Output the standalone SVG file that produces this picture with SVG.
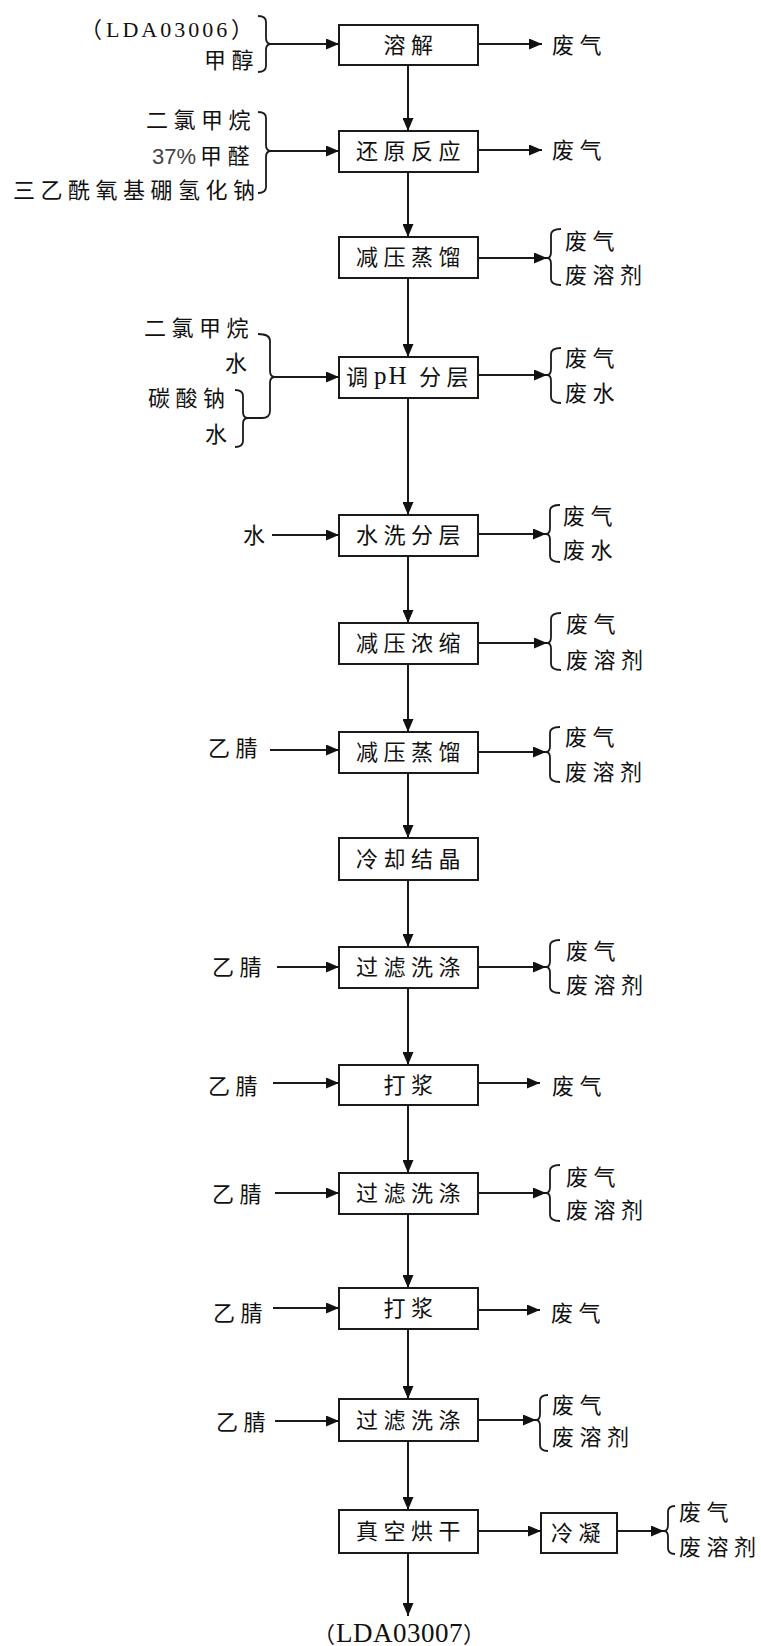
<svg xmlns="http://www.w3.org/2000/svg" width="761" height="1646" viewBox="0 0 761 1646">
<style>
.bg{fill:#fff}
.box rect{fill:#fff;stroke:#1a1a1a;stroke-width:2}
.ln{fill:none;stroke:#1a1a1a;stroke-width:2}
.br{fill:none;stroke:#1a1a1a;stroke-width:1.8}
.cn{font-family:"Noto Sans CJK SC","Noto Sans CJK JP",sans-serif;font-size:22px;letter-spacing:5.5px;fill:#111}
.mid{text-anchor:middle}
.lat{font-family:"Liberation Serif","Noto Sans CJK SC",serif;font-size:22px;letter-spacing:3px;fill:#111}
.par{font-family:"Noto Sans CJK SC",sans-serif;font-size:22px;letter-spacing:0;fill:#111}
.sans{font-family:"Liberation Sans",sans-serif;font-size:22px;letter-spacing:0;fill:#444}
</style>
<defs>
<marker id="ah" markerWidth="13" markerHeight="11" refX="13" refY="5.5" orient="auto" markerUnits="userSpaceOnUse"><path d="M0,0 L13,5.5 L0,11 z" fill="#111"/></marker>
</defs>
<rect class="bg" x="0" y="0" width="761" height="1646"/>

<g id="connectors">
<!-- vertical main flow -->
<line class="ln" x1="408" y1="65" x2="408" y2="131" marker-end="url(#ah)"/>
<line class="ln" x1="408" y1="172" x2="408" y2="237" marker-end="url(#ah)"/>
<line class="ln" x1="408" y1="278" x2="408" y2="357" marker-end="url(#ah)"/>
<line class="ln" x1="408" y1="398" x2="408" y2="515" marker-end="url(#ah)"/>
<line class="ln" x1="408" y1="556" x2="408" y2="623" marker-end="url(#ah)"/>
<line class="ln" x1="408" y1="664" x2="408" y2="732" marker-end="url(#ah)"/>
<line class="ln" x1="408" y1="773" x2="408" y2="838" marker-end="url(#ah)"/>
<line class="ln" x1="408" y1="880" x2="408" y2="947" marker-end="url(#ah)"/>
<line class="ln" x1="408" y1="988" x2="408" y2="1065" marker-end="url(#ah)"/>
<line class="ln" x1="408" y1="1105" x2="408" y2="1173" marker-end="url(#ah)"/>
<line class="ln" x1="408" y1="1214" x2="408" y2="1288" marker-end="url(#ah)"/>
<line class="ln" x1="408" y1="1329" x2="408" y2="1399" marker-end="url(#ah)"/>
<line class="ln" x1="408" y1="1441" x2="408" y2="1510" marker-end="url(#ah)"/>
<line class="ln" x1="408" y1="1553" x2="408" y2="1616" marker-end="url(#ah)"/>

<!-- input arrows -->
<line class="ln" x1="271" y1="44" x2="339" y2="44" marker-end="url(#ah)"/>
<line class="ln" x1="271" y1="151" x2="339" y2="151" marker-end="url(#ah)"/>
<line class="ln" x1="275" y1="377" x2="339" y2="377" marker-end="url(#ah)"/>
<line class="ln" x1="272" y1="535" x2="339" y2="535" marker-end="url(#ah)"/>
<line class="ln" x1="270" y1="750" x2="339" y2="750" marker-end="url(#ah)"/>
<line class="ln" x1="277" y1="967" x2="339" y2="967" marker-end="url(#ah)"/>
<line class="ln" x1="273" y1="1083" x2="339" y2="1083" marker-end="url(#ah)"/>
<line class="ln" x1="275" y1="1193" x2="339" y2="1193" marker-end="url(#ah)"/>
<line class="ln" x1="273" y1="1308" x2="339" y2="1308" marker-end="url(#ah)"/>
<line class="ln" x1="275" y1="1421" x2="339" y2="1421" marker-end="url(#ah)"/>

<!-- output arrows -->
<line class="ln" x1="478" y1="44" x2="542" y2="44" marker-end="url(#ah)"/>
<line class="ln" x1="478" y1="150" x2="542" y2="150" marker-end="url(#ah)"/>
<line class="ln" x1="478" y1="258" x2="547" y2="258" marker-end="url(#ah)"/>
<line class="ln" x1="478" y1="375" x2="547" y2="375" marker-end="url(#ah)"/>
<line class="ln" x1="478" y1="534" x2="546" y2="534" marker-end="url(#ah)"/>
<line class="ln" x1="478" y1="643" x2="547" y2="643" marker-end="url(#ah)"/>
<line class="ln" x1="478" y1="752" x2="546" y2="752" marker-end="url(#ah)"/>
<line class="ln" x1="478" y1="967" x2="546" y2="967" marker-end="url(#ah)"/>
<line class="ln" x1="478" y1="1083" x2="540" y2="1083" marker-end="url(#ah)"/>
<line class="ln" x1="478" y1="1193" x2="546" y2="1193" marker-end="url(#ah)"/>
<line class="ln" x1="478" y1="1310" x2="540" y2="1310" marker-end="url(#ah)"/>
<line class="ln" x1="478" y1="1420" x2="536" y2="1420" marker-end="url(#ah)"/>
<line class="ln" x1="478" y1="1531" x2="541" y2="1531" marker-end="url(#ah)"/>
<line class="ln" x1="617" y1="1531" x2="664" y2="1531" marker-end="url(#ah)"/>

<!-- left braces "}" -->
<path class="br" d="M258,16 Q266,16 266,22 L266,38 Q266,44 271,44 Q266,44 266,50 L266,66 Q266,72 258,72"/>
<path class="br" d="M258,112 Q266,112 266,118 L266,145 Q266,151 271,151 Q266,151 266,157 L266,187 Q266,193 258,193"/>
<path class="br" d="M258,334 Q270,334 270,341 L270,371 Q270,377 275,377 Q270,377 270,383 L270,411 Q270,418 262,418 L248,418"/>
<path class="br" d="M235,390 Q243,390 243,396 L243,412 Q243,418 248,418 Q243,418 243,424 L243,441 Q243,447 235,447"/>

<!-- right braces "{" -->
<path class="br" d="M561,229 Q551,229 551,235 L551,252 Q551,258 547,258 Q551,258 551,264 L551,279 Q551,285 561,285"/>
<path class="br" d="M561,348 Q551,348 551,354 L551,369 Q551,375 547,375 Q551,375 551,381 L551,397 Q551,403 561,403"/>
<path class="br" d="M560,505 Q550,505 550,511 L550,528 Q550,534 546,534 Q550,534 550,540 L550,556 Q550,562 560,562"/>
<path class="br" d="M561,613 Q551,613 551,619 L551,637 Q551,643 547,643 Q551,643 551,649 L551,664 Q551,670 561,670"/>
<path class="br" d="M560,727 Q550,727 550,733 L550,746 Q550,752 546,752 Q550,752 550,758 L550,776 Q550,782 560,782"/>
<path class="br" d="M560,940 Q550,940 550,946 L550,961 Q550,967 546,967 Q550,967 550,973 L550,987 Q550,993 560,993"/>
<path class="br" d="M560,1165 Q550,1165 550,1171 L550,1187 Q550,1193 546,1193 Q550,1193 550,1199 L550,1215 Q550,1221 560,1221"/>
<path class="br" d="M548,1395 Q540,1395 540,1401 L540,1414 Q540,1420 536,1420 Q540,1420 540,1426 L540,1445 Q540,1451 548,1451"/>
<path class="br" d="M675,1506 Q668,1506 668,1512 L668,1525 Q668,1531 664,1531 Q668,1531 668,1537 L668,1548 Q668,1554 675,1554"/>
</g>

<g id="n1" class="box"><rect x="339" y="25" width="139" height="40"/><text class="cn mid" x="411" y="53">溶解</text></g>
<g id="n2" class="box"><rect x="339" y="131" width="139" height="41"/><text class="cn mid" x="411" y="159">还原反应</text></g>
<g id="n3" class="box"><rect x="339" y="237" width="139" height="41"/><text class="cn mid" x="411" y="265">减压蒸馏</text></g>
<g id="n4" class="box"><rect x="339" y="357" width="139" height="41"/><text class="cn" y="385"><tspan x="346">调</tspan><tspan class="lat" x="374" y="384" style="font-size:25px;letter-spacing:2px">pH</tspan><tspan x="419" y="385">分层</tspan></text></g>
<g id="n5" class="box"><rect x="339" y="515" width="139" height="41"/><text class="cn mid" x="411" y="543">水洗分层</text></g>
<g id="n6" class="box"><rect x="339" y="623" width="139" height="41"/><text class="cn mid" x="411" y="651">减压浓缩</text></g>
<g id="n7" class="box"><rect x="339" y="732" width="139" height="41"/><text class="cn mid" x="411" y="760">减压蒸馏</text></g>
<g id="n8" class="box"><rect x="339" y="838" width="139" height="42"/><text class="cn mid" x="411" y="867">冷却结晶</text></g>
<g id="n9" class="box"><rect x="339" y="947" width="139" height="41"/><text class="cn mid" x="411" y="975">过滤洗涤</text></g>
<g id="n10" class="box"><rect x="339" y="1065" width="139" height="40"/><text class="cn mid" x="411" y="1093">打浆</text></g>
<g id="n11" class="box"><rect x="339" y="1173" width="139" height="41"/><text class="cn mid" x="411" y="1201">过滤洗涤</text></g>
<g id="n12" class="box"><rect x="339" y="1288" width="139" height="41"/><text class="cn mid" x="411" y="1316">打浆</text></g>
<g id="n13" class="box"><rect x="339" y="1399" width="139" height="42"/><text class="cn mid" x="411" y="1428">过滤洗涤</text></g>
<g id="n14" class="box"><rect x="339" y="1510" width="139" height="43"/><text class="cn mid" x="411" y="1539">真空烘干</text></g>
<g id="n15" class="box"><rect x="541" y="1513" width="76" height="40"/><text class="cn" x="551" y="1541">冷凝</text></g>

<g id="inputs">
<text class="lat" y="37"><tspan class="par" x="80">（</tspan><tspan x="106">LDA03006</tspan><tspan class="par" x="231">）</tspan></text>
<text class="cn" x="204" y="68">甲醇</text>
<text class="cn" x="146" y="128">二氯甲烷</text>
<text class="cn" y="164"><tspan class="sans" x="152">37%</tspan><tspan x="200">甲醛</tspan></text>
<text class="cn" x="13" y="198">三乙酰氧基硼氢化钠</text>
<text class="cn" x="144" y="336">二氯甲烷</text>
<text class="cn" x="225" y="371">水</text>
<text class="cn" x="148" y="406">碳酸钠</text>
<text class="cn" x="205" y="442">水</text>
<text class="cn" x="243" y="543">水</text>
<text class="cn" x="208" y="756">乙腈</text>
<text class="cn" x="212" y="975">乙腈</text>
<text class="cn" x="208" y="1094">乙腈</text>
<text class="cn" x="212" y="1202">乙腈</text>
<text class="cn" x="213" y="1321">乙腈</text>
<text class="cn" x="216" y="1430">乙腈</text>
</g>

<g id="outputs">
<text class="cn" x="552" y="53">废气</text>
<text class="cn" x="552" y="158">废气</text>
<text class="cn" x="565" y="249">废气</text>
<text class="cn" x="565" y="283">废溶剂</text>
<text class="cn" x="565" y="366">废气</text>
<text class="cn" x="565" y="401">废水</text>
<text class="cn" x="563" y="524">废气</text>
<text class="cn" x="563" y="558">废水</text>
<text class="cn" x="566" y="632">废气</text>
<text class="cn" x="566" y="668">废溶剂</text>
<text class="cn" x="565" y="745">废气</text>
<text class="cn" x="565" y="780">废溶剂</text>
<text class="cn" x="566" y="959">废气</text>
<text class="cn" x="566" y="993">废溶剂</text>
<text class="cn" x="552" y="1094">废气</text>
<text class="cn" x="566" y="1185">废气</text>
<text class="cn" x="566" y="1218">废溶剂</text>
<text class="cn" x="551" y="1321">废气</text>
<text class="cn" x="552" y="1413">废气</text>
<text class="cn" x="552" y="1445">废溶剂</text>
<text class="cn" x="679" y="1520">废气</text>
<text class="cn" x="679" y="1555">废溶剂</text>
<text class="lat" y="1642" style="font-size:27px;letter-spacing:0.5px"><tspan class="par" x="313">（</tspan><tspan x="336">LDA03007</tspan><tspan class="par" x="463">）</tspan></text>
</g>
</svg>
